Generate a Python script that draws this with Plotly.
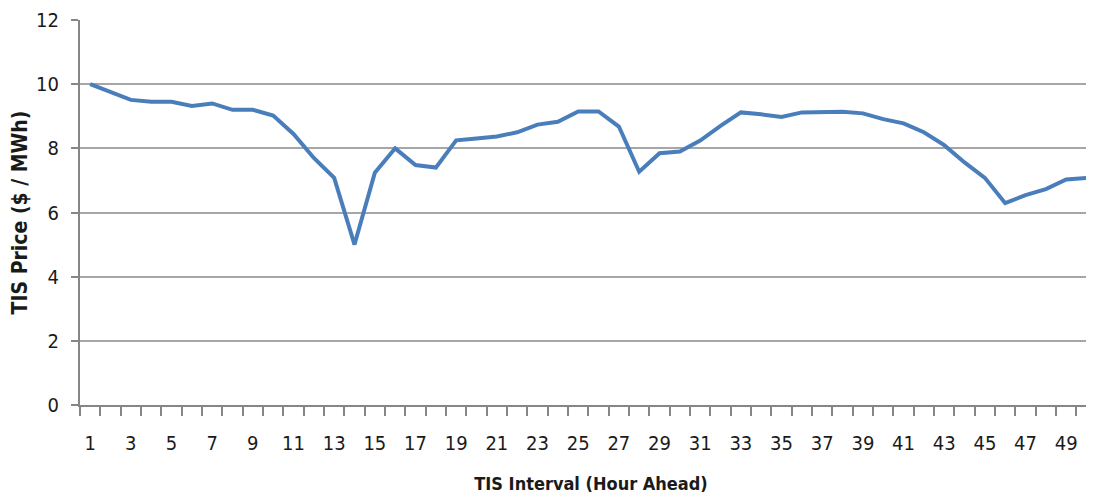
import plotly.graph_objects as go

intervals = list(range(1, 51))
tis_price = [10.0, 9.74, 9.51, 9.45, 9.45, 9.32, 9.4, 9.2, 9.2, 9.02,
             8.45, 7.7, 7.08, 5.0, 7.24, 8.0, 7.48, 7.4, 8.25, 8.31,
             8.37, 8.5, 8.74, 8.83, 9.15, 9.15, 8.68, 7.27, 7.85, 7.9,
             8.24, 8.7, 9.12, 9.06, 8.98, 9.12, 9.14, 9.14, 9.09, 8.91,
             8.78, 8.5, 8.1, 7.56, 7.08, 6.29, 6.54, 6.73, 7.03, 7.08]
x_labels = list(range(1, 51, 2))
y_ticks = [0, 2, 4, 6, 8, 10, 12]

FONT = "DejaVu Sans Condensed, Liberation Sans, sans-serif"

fig = go.Figure()
fig.add_trace(go.Scatter(x=intervals, y=tis_price, mode="lines",
                         line=dict(color="#4a7ebb", width=4), showlegend=False))

fig.update_layout(
    width=1094, height=496,
    margin=dict(l=72, r=0, t=12, b=99),
    paper_bgcolor="white", plot_bgcolor="white",
    font=dict(family=FONT, color="#1a1a1a", size=20),
    xaxis=dict(
        range=[0.5, 50.76], tickvals=x_labels, ticktext=[str(v) for v in x_labels],
        ticks="", showgrid=False, zeroline=False, automargin=False,
        showline=True, linecolor="#868686", linewidth=2,
        ticklabelstandoff=19,
        minor=dict(tickvals=[i + 0.5 for i in range(0, 51)], ticks="outside",
                   ticklen=9, tickwidth=2, tickcolor="#868686", showgrid=False),
        title=dict(text="<b>TIS Interval (Hour Ahead)</b>", font=dict(size=18), standoff=23),
    ),
    yaxis=dict(
        range=[0, 12], tickvals=y_ticks, ticks="outside", ticklen=7, tickwidth=2,
        tickcolor="#868686", showgrid=True, gridcolor="#a6a6a6", gridwidth=2,
        zeroline=False, showline=True, linecolor="#868686", linewidth=2,
        ticklabelstandoff=8, automargin=False,
        title=dict(text="<b>TIS Price ($ / MWh)</b>", font=dict(size=21), standoff=4),
    ),
)

fig.write_html("out.html")
